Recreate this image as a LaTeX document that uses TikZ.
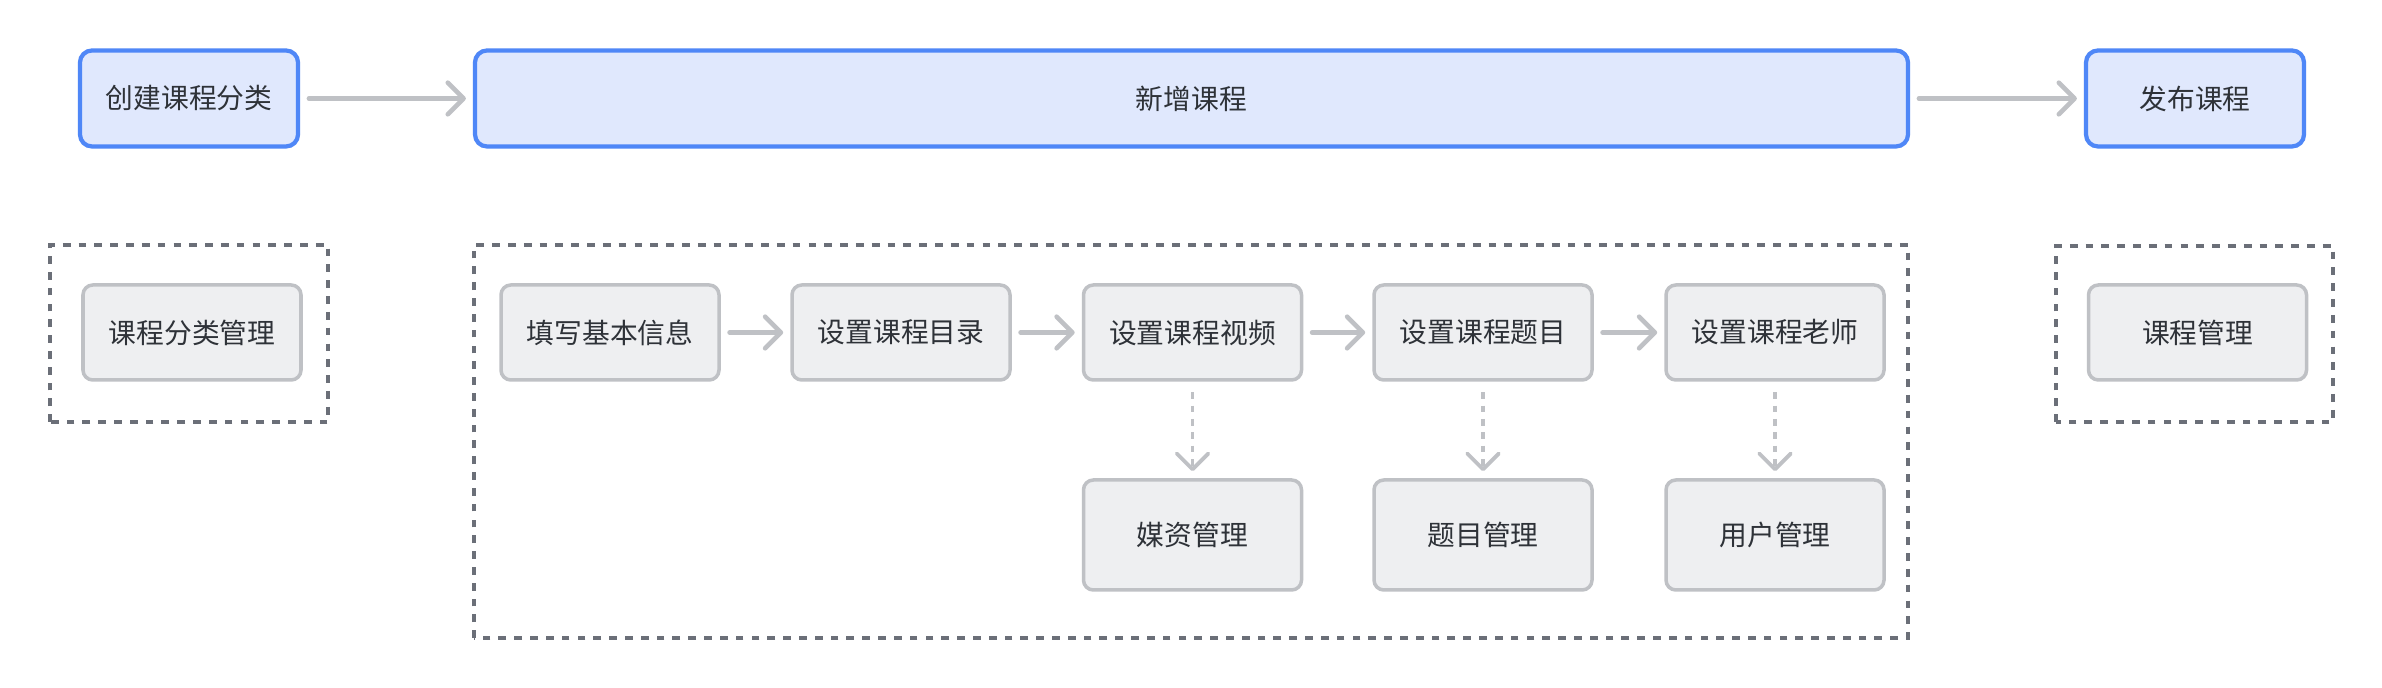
\documentclass[tikz,border=0pt]{standalone}
\usepackage{fontspec}
\newfontfamily\cjk{Noto Sans CJK SC}
\usetikzlibrary{arrows.meta, positioning}
\definecolor{stepblue}{HTML}{4F87F7}
\definecolor{stepfill}{HTML}{E0E8FD}
\definecolor{subfill}{HTML}{EEEFF1}
\definecolor{subline}{HTML}{BFC1C5}
\definecolor{framegray}{HTML}{6B6F78}
\definecolor{inkgray}{HTML}{2E3238}

\begin{document}
\begin{tikzpicture}[
  >={Straight Barb[length=4.5pt, width=9pt, round]},
  stagebox/.style={draw=stepblue, line width=1.2pt, fill=stepfill, rounded corners=3.4pt,
    minimum width=#1, minimum height=0.96cm, inner sep=0pt,
    font=\cjk\fontsize{7.9pt}{9pt}\selectfont, text=inkgray},
  taskbox/.style={draw=subline, line width=1pt, fill=subfill, rounded corners=2.8pt,
    minimum width=2.18cm, minimum height=#1, inner sep=0pt,
    font=\cjk\fontsize{7.9pt}{9pt}\selectfont, text=inkgray},
  taskbox/.default=0.95cm,
  groupframe/.style={draw=framegray, line width=1.1pt, dash pattern=on 2.2pt off 2.3pt},
  arr/.style={->, line width=1.3pt, subline, line cap=round},
  linkarr/.style={->, line width=1.1pt, subline, dash pattern=on 1.9pt off 1.9pt},
]

% Background
\fill[white] (0,0) rectangle (23.82,6.88);
\useasboundingbox (0,0) rectangle (23.82,6.88);

% =============================================
% Top row: main stages
% =============================================
\node[stagebox=2.18cm] (create) at (1.89,5.895) {创建课程分类};
\node[stagebox=14.33cm] (add) at (11.915,5.895) {新增课程};
\node[stagebox=2.18cm] (publish) at (21.95,5.895) {发布课程};

\draw[arr] ([xshift=2.5pt]create.east) -- ([xshift=-2pt]add.west);
\draw[arr] ([xshift=2.5pt]add.east) -- ([xshift=-2pt]publish.west);

% =============================================
% Left group
% =============================================
\draw[groupframe] (0.50,2.66) rectangle (3.28,4.43);
\node[taskbox] (catmgr) at (1.92,3.555) {课程分类管理};

% =============================================
% Middle group: steps of a new course
% =============================================
\draw[groupframe] (4.74,0.50) rectangle (19.08,4.43);

\node[taskbox] (info) at (6.10,3.555) {填写基本信息};
\node[taskbox] (toc) at (9.01,3.555) {设置课程目录};
\node[taskbox] (video) at (11.925,3.555) {设置课程视频};
\node[taskbox] (quiz) at (14.83,3.555) {设置课程题目};
\node[taskbox] (teacher) at (17.75,3.555) {设置课程老师};

\draw[arr] ([xshift=2.5pt]info.east) -- ([xshift=-2pt]toc.west);
\draw[arr] ([xshift=2.5pt]toc.east) -- ([xshift=-2pt]video.west);
\draw[arr] ([xshift=2.5pt]video.east) -- ([xshift=-2pt]quiz.west);
\draw[arr] ([xshift=2.5pt]quiz.east) -- ([xshift=-2pt]teacher.west);

% Linked modules
\node[taskbox=1.10cm] (media) at (11.925,1.53) {媒资管理};
\node[taskbox=1.10cm] (quizmgr) at (14.83,1.53) {题目管理};
\node[taskbox=1.10cm] (usermgr) at (17.75,1.53) {用户管理};

\draw[linkarr] ([yshift=-3pt]video.south) -- ([yshift=2pt]media.north);
\draw[linkarr] ([yshift=-3pt]quiz.south) -- ([yshift=2pt]quizmgr.north);
\draw[linkarr] ([yshift=-3pt]teacher.south) -- ([yshift=2pt]usermgr.north);

% =============================================
% Right group
% =============================================
\draw[groupframe] (20.56,2.66) rectangle (23.33,4.42);
\node[taskbox] (coursemgr) at (21.975,3.555) {课程管理};

\end{tikzpicture}
\end{document}
